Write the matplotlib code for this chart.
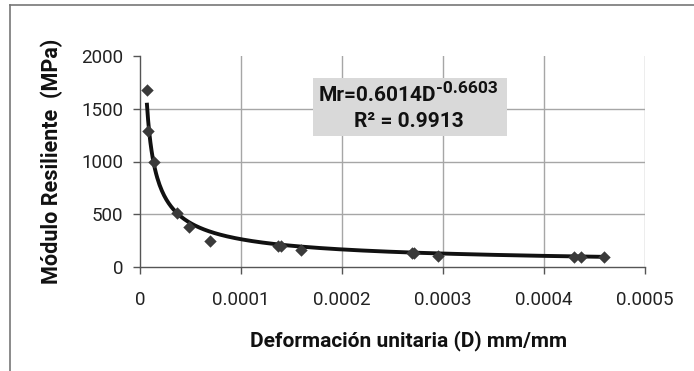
import numpy as np
import matplotlib
matplotlib.use("Agg")
import matplotlib.pyplot as plt
from matplotlib.lines import Line2D
from matplotlib.patches import Rectangle

# Data
deformacion = [6.9e-6, 8.1e-6, 1.34e-5, 3.66e-5, 4.9e-5, 6.95e-5, 1.37e-4, 1.40e-4,
               1.59e-4, 2.69e-4, 2.71e-4, 2.95e-4, 4.30e-4, 4.37e-4, 4.59e-4]
modulo = [1675, 1292, 998, 509, 382, 249, 195, 195, 158, 130, 130, 104, 95, 95, 95]

# Power trend line shown on chart
coef_a = 0.6014
coef_b = -0.6603
r2 = 0.9913

x_ticks = [0, 0.0001, 0.0002, 0.0003, 0.0004, 0.0005]
x_ticklabels = ["0", "0.0001", "0.0002", "0.0003", "0.0004", "0.0005"]
y_ticks = [0, 500, 1000, 1500, 2000]

plt.rcParams['font.family'] = ['Roboto', 'DejaVu Sans']

fig = plt.figure(figsize=(6.94, 3.71), dpi=100)
ax = fig.add_axes([140/694, 1-267/371, 505/694, 211/371])

xs = np.linspace(min(deformacion), max(deformacion), 400)
ax.plot(xs, coef_a * xs ** coef_b, color='#111111', lw=2.8, zorder=3)
ax.scatter(deformacion, modulo, marker='D', s=40, color='#3a3a3a', zorder=4, linewidths=0)

ax.set_xlim(0, 0.0005)
ax.set_ylim(0, 2000)
ax.set_xticks(x_ticks)
ax.set_xticklabels(x_ticklabels)
ax.set_yticks(y_ticks)
ax.set_yticklabels([str(v) for v in y_ticks])

for v in [500, 1000, 1500]:
    ax.axhline(v, color='#a6a6a6', lw=1.0, zorder=1)
for v in x_ticks[1:]:
    ax.axvline(v, color='#a6a6a6', lw=1.0, zorder=1)

for s in ['top', 'right']:
    ax.spines[s].set_visible(False)
for s in ['left', 'bottom']:
    ax.spines[s].set_color('#555555')
    ax.spines[s].set_linewidth(1.0)
ax.tick_params(axis='both', direction='out', length=5, width=1.0, color='#555555',
               labelsize=13.5, labelcolor='#222222')
ax.tick_params(axis='x', pad=12)
ax.tick_params(axis='y', pad=7)

ax.set_ylabel('Módulo Resiliente  (MPa)', fontsize=15.5, fontweight='bold', labelpad=13,
              color='#111111')
ax.set_xlabel('Deformación unitaria (D) mm/mm', fontsize=15, fontweight='bold',
              color='#111111')
ax.xaxis.set_label_coords(0.531, -0.30)

# Annotation box
ax.add_patch(Rectangle((0.0001713, 1242), 0.0001921, 550, facecolor='#d9d9d9',
                       edgecolor='none', zorder=5))
t1 = ax.text(0.000177, 1625, 'Mr=%.4fD' % coef_a, fontsize=15, fontweight='bold',
             ha='left', va='center', color='#111111', zorder=6)
fig.canvas.draw()
bb = t1.get_window_extent()
x_end = ax.transData.inverted().transform((bb.x1, bb.y1))[0]
ax.text(x_end, 1690, '%.4f' % coef_b, fontsize=12.5, fontweight='bold',
        ha='left', va='center', color='#111111', zorder=6)
ax.text(0.000266, 1375, 'R² = %.4f' % r2, fontsize=15, fontweight='bold',
        ha='center', va='center', color='#111111', zorder=6)

# Outer border (cut at right and bottom)
fig.add_artist(Line2D([10/694, 1], [1-5/371, 1-5/371], transform=fig.transFigure,
                      color='#777777', lw=1.2))
fig.add_artist(Line2D([10/694, 10/694], [0, 1-5/371], transform=fig.transFigure,
                      color='#777777', lw=1.2))

fig.savefig('out.png', dpi=100)
